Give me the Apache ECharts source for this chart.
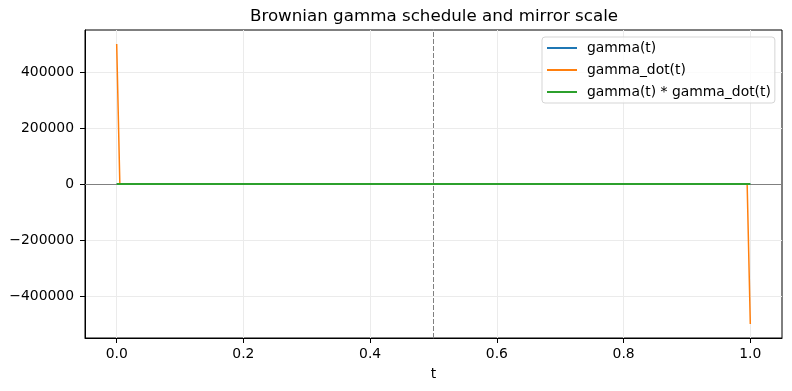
<!DOCTYPE html>
<html>
<head>
<meta charset="utf-8">
<script src="https://cdn.jsdelivr.net/npm/echarts@6/dist/echarts.min.js"></script>
<style>html,body{margin:0;padding:0;background:#fff;}#c{width:792px;height:391px;}</style>
</head>
<body>
<div id="c"></div>
<script>
const tValues = [0.0, 0.005, 0.1, 0.2, 0.3, 0.4, 0.5, 0.6, 0.7, 0.8, 0.9, 0.995, 1.0];
const gammaValues = [0.0, 0.07, 0.3, 0.4, 0.46, 0.49, 0.5, 0.49, 0.46, 0.4, 0.3, 0.07, 0.0];
const gammaDotValues = [500000, 7, 1.33, 0.75, 0.44, 0.2, 0, -0.2, -0.44, -0.75, -1.33, -7, -500000];
const productValues = [0.5, 0.495, 0.4, 0.3, 0.2, 0.1, 0, -0.1, -0.2, -0.3, -0.4, -0.495, -0.5];
const xTicks = [0.0, 0.2, 0.4, 0.6, 0.8, 1.0];
const yTicks = [-400000, -200000, 0, 200000, 400000];
const seriesNames = ['gamma(t)', 'gamma_dot(t)', 'gamma(t) * gamma_dot(t)'];
const titleText = 'Brownian gamma schedule and mirror scale';
const xLabel = 't';
const midT = 0.5;

const pair = (ys) => tValues.map((t, i) => [t, ys[i]]);
const FONT = 'DejaVu Sans';

const chart = echarts.init(document.getElementById('c'), null, {renderer: 'canvas'});
chart.setOption({
  animation: false,
  backgroundColor: '#fff',
  textStyle: {fontFamily: FONT},
  title: {
    text: titleText, left: 434, top: 8, textAlign: 'center', padding: 0,
    textStyle: {fontFamily: FONT, fontSize: 16.7, fontWeight: 'normal', color: '#000'}
  },
  grid: {left: 85, right: 10, top: 30, bottom: 53, show: true, borderColor: '#000', borderWidth: 1, backgroundColor: 'transparent'},
  legend: {
    orient: 'vertical', left: 542, top: 37,
    data: seriesNames,
    itemWidth: 30, itemHeight: 14, itemGap: 8,
    padding: [4, 4, 4, 4],
    itemStyle: {opacity: 0},
    lineStyle: {width: 2},
    backgroundColor: 'rgba(255,255,255,0.8)', borderColor: '#d5d5d5', borderWidth: 1, borderRadius: 3,
    textStyle: {fontFamily: FONT, fontSize: 13.9, color: '#000', padding: [0, 0, 0, 5]}
  },
  xAxis: {
    type: 'value', min: -0.05, max: 1.05,
    name: xLabel, nameLocation: 'middle', nameGap: 29,
    nameTextStyle: {fontFamily: FONT, fontSize: 13.9, color: '#000'},
    axisLine: {show: true, onZero: false, lineStyle: {color: '#000', width: 1}},
    axisTick: {show: true, customValues: xTicks, length: 5, lineStyle: {color: '#000', width: 1}},
    axisLabel: {customValues: xTicks, margin: 9, fontFamily: FONT, fontSize: 13.9, color: '#000', formatter: v => v.toFixed(1)},
    splitLine: {show: true, lineStyle: {color: '#ebebeb', width: 1}}
  },
  yAxis: {
    type: 'value', min: -550000, max: 550000,
    axisLine: {show: true, onZero: false, lineStyle: {color: '#000', width: 1}},
    axisTick: {show: true, customValues: yTicks, length: 5, lineStyle: {color: '#000', width: 1}},
    axisLabel: {customValues: yTicks, margin: 11, fontFamily: FONT, fontSize: 13.9, color: '#000',
      formatter: v => v < 0 ? '\u2212' + Math.abs(v) : String(v)},
    splitLine: {show: true, lineStyle: {color: '#ebebeb', width: 1}}
  },
  series: [
    {
      name: seriesNames[0], type: 'line', data: pair(gammaValues), symbol: 'none',
      lineStyle: {color: '#1f77b4', width: 1.5}, itemStyle: {color: '#1f77b4'}, z: 3,
      markLine: {
        silent: true, symbol: 'none', label: {show: false}, animation: false,
        data: [
          {yAxis: 0, lineStyle: {color: '#808080', width: 1, type: 'solid'}},
          {xAxis: midT, lineStyle: {color: '#808080', width: 1, type: [5, 2]}}
        ]
      }
    },
    {
      name: seriesNames[1], type: 'line', data: pair(gammaDotValues), symbol: 'none',
      lineStyle: {color: '#ff7f0e', width: 1.5}, itemStyle: {color: '#ff7f0e'}, z: 4
    },
    {
      name: seriesNames[2], type: 'line', data: pair(productValues), symbol: 'none',
      lineStyle: {color: '#2ca02c', width: 2}, itemStyle: {color: '#2ca02c'}, z: 5
    }
  ]
});
</script>
</body>
</html>
